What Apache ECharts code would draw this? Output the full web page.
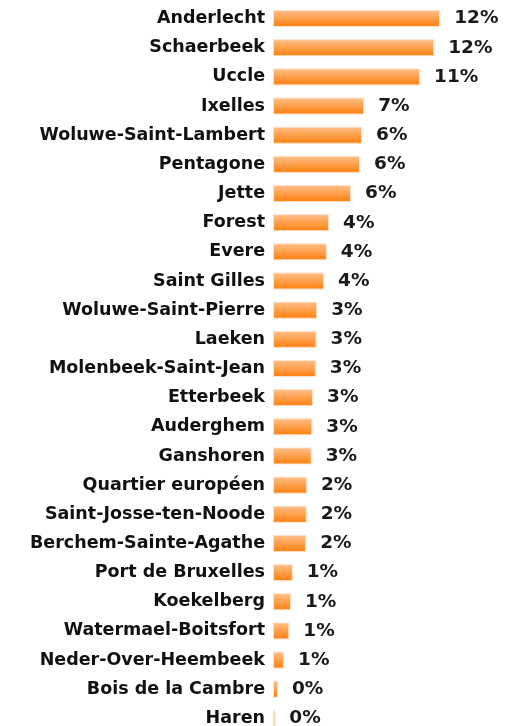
<!DOCTYPE html>
<html>
<head>
<meta charset="utf-8">
<script src="https://cdn.jsdelivr.net/npm/echarts@6/dist/echarts.min.js"></script>
<style>
  html,body{margin:0;padding:0;background:#fff;overflow:hidden;}
  /* un peu plus haut que la fenêtre: la dernière barre déborde en bas */
  #chart{width:505px;height:740px;}
</style>
</head>
<body>
<div id="chart"></div>
<script>
// communes, du haut vers le bas
var communes = ['Anderlecht','Schaerbeek','Uccle','Ixelles','Woluwe-Saint-Lambert','Pentagone','Jette',
  'Forest','Evere','Saint Gilles','Woluwe-Saint-Pierre','Laeken','Molenbeek-Saint-Jean','Etterbeek',
  'Auderghem','Ganshoren','Quartier européen','Saint-Josse-ten-Noode','Berchem-Sainte-Agathe',
  'Port de Bruxelles','Koekelberg','Watermael-Boitsfort','Neder-Over-Heembeek','Bois de la Cambre','Haren'];
// part en %
var parts = [12.1,11.67,10.65,6.6,6.45,6.3,5.65,
  4.06,3.9,3.7,3.2,3.15,3.1,2.9,
  2.85,2.8,2.46,2.44,2.4,
  1.43,1.3,1.18,0.8,0.36,0.17];

var FONT = '"DejaVu Sans", Verdana, sans-serif';
var chart = echarts.init(document.getElementById('chart'));
chart.setOption({
    animation:false,
    grid:{left:273,top:4,height:729,width:221},
    xAxis:{type:'value',min:0,max:16,show:false},
    yAxis:{
        type:'category',data:communes,inverse:true,
        axisLine:{show:false},axisTick:{show:false},
        axisLabel:{color:'#111',fontFamily:FONT,fontWeight:'bold',fontSize:17.5,margin:8}
    },
    series:[{
        type:'bar',data:parts,barWidth:17,
        itemStyle:{
            color:new echarts.graphic.LinearGradient(0,0,0,1,[
                {offset:0,color:'#ffc08c'},
                {offset:1,color:'#ff7f0c'}
            ]),
            borderColor:'#ffe2cc',borderWidth:1
        },
        label:{
            show:true,position:'right',distance:14,
            color:'#1a1a1a',fontFamily:FONT,fontWeight:'bold',fontSize:18.5,
            formatter:function(p){return Math.round(p.value)+'%';}
        }
    }]
});
</script>
</body>
</html>
